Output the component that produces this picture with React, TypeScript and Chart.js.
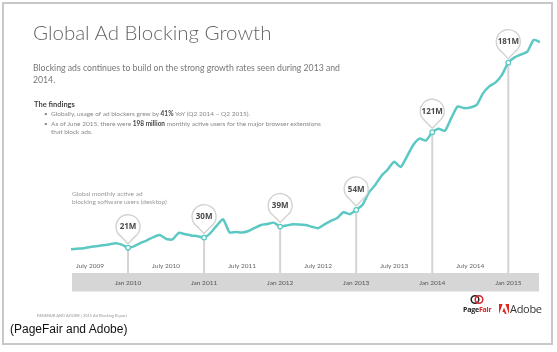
import React, { useEffect, useRef } from "react";
import { Chart, registerables } from "chart.js";

Chart.register(...registerables);

const months: string[] = [
  "2009-04","2009-05","2009-06","2009-07","2009-08","2009-09","2009-10","2009-11","2009-12",
  "2010-01","2010-02","2010-03","2010-04","2010-05","2010-06","2010-07","2010-08","2010-09","2010-10","2010-11","2010-12",
  "2011-01","2011-02","2011-03","2011-04","2011-05","2011-06","2011-07","2011-08","2011-09","2011-10","2011-11","2011-12",
  "2012-01","2012-02","2012-03","2012-04","2012-05","2012-06","2012-07","2012-08","2012-09","2012-10","2012-11","2012-12",
  "2013-01","2013-02","2013-03","2013-04","2013-05","2013-06","2013-07","2013-08","2013-09","2013-10","2013-11","2013-12",
  "2014-01","2014-02","2014-03","2014-04","2014-05","2014-06","2014-07","2014-08","2014-09","2014-10","2014-11","2014-12",
  "2015-01","2015-02","2015-03","2015-04","2015-05","2015-06",
];

const usersMillions: number[] = [
  20.0, 20.5, 21.0, 22.0, 22.7, 23.5, 24.2, 25.2, 24.0,
  21.4, 22.8, 25.5, 27.8, 30.5, 32.4, 29.0, 28.5, 34.2, 33.0, 32.0, 31.2,
  30.1, 34.0, 40.5, 45.9, 34.7, 35.0, 34.4, 35.8, 38.5, 41.0, 41.8, 43.0,
  39.6, 40.5, 41.6, 41.5, 41.0, 39.5, 38.2, 41.5, 44.5, 47.0, 52.0, 50.3,
  54.0, 58.5, 69.0, 75.5, 83.5, 89.0, 95.5, 91.0, 100.0, 110.0, 115.5, 113.8,
  121.0, 123.9, 122.2, 133.2, 143.2, 141.8, 142.3, 144.5, 154.5, 160.5, 164.0, 170.5,
  181.0, 185.5, 188.0, 190.5, 200.5, 198.8,
];

const janTicks: string[] = ["2010-01", "2011-01", "2012-01", "2013-01", "2014-01", "2015-01"];
const janTickLabels: string[] = ["Jan 2010", "Jan 2011", "Jan 2012", "Jan 2013", "Jan 2014", "Jan 2015"];
const julyTicks: string[] = ["2009-07", "2010-07", "2011-07", "2012-07", "2013-07", "2014-07"];
const julyTickLabels: string[] = ["July 2009", "July 2010", "July 2011", "July 2012", "July 2013", "July 2014"];
const calloutMonths: string[] = ["2010-01", "2011-01", "2012-01", "2013-01", "2014-01", "2015-01"];
const calloutLabels: string[] = ["21M", "30M", "39M", "54M", "121M", "181M"];

const TEAL = "#5cc8c3";

const decorPlugin = {
  id: "adDecor",
  beforeDatasetsDraw(chart: any) {
    const { ctx, chartArea, scales } = chart;
    const x = scales.x;
    const y = scales.y;
    ctx.save();
    ctx.fillStyle = "#d6d6d6";
    ctx.fillRect(chartArea.left + 1, chartArea.bottom + 0.5, chartArea.right - chartArea.left - 2, 18.5);
    ctx.strokeStyle = "#d4d4d4";
    ctx.lineWidth = 2;
    calloutMonths.forEach((m) => {
      const i = months.indexOf(m);
      const px = x.getPixelForValue(i);
      const py = y.getPixelForValue(usersMillions[i]);
      ctx.beginPath();
      ctx.moveTo(px, py);
      ctx.lineTo(px, chartArea.bottom + 0.5);
      ctx.stroke();
    });
    ctx.textAlign = "center";
    ctx.textBaseline = "middle";
    ctx.font = "6.5px Lato, 'Open Sans', sans-serif";
    ctx.fillStyle = "#555";
    janTicks.forEach((m, k) => {
      const px = x.getPixelForValue(months.indexOf(m));
      ctx.fillText(janTickLabels[k], px, chartArea.bottom + 10);
    });
    ctx.fillStyle = "#666";
    julyTicks.forEach((m, k) => {
      const px = x.getPixelForValue(months.indexOf(m));
      ctx.fillText(julyTickLabels[k], px, chartArea.bottom - 6.5);
    });
    ctx.restore();
  },
  afterDatasetsDraw(chart: any) {
    const { ctx, scales } = chart;
    const x = scales.x;
    const y = scales.y;
    ctx.save();
    calloutMonths.forEach((m, k) => {
      const i = months.indexOf(m);
      const px = x.getPixelForValue(i);
      const py = y.getPixelForValue(usersMillions[i]);
      ctx.beginPath();
      ctx.arc(px, py, 2.3, 0, Math.PI * 2);
      ctx.fillStyle = "#fff";
      ctx.fill();
      ctx.lineWidth = 1.3;
      ctx.strokeStyle = TEAL;
      ctx.stroke();
      const r = 12;
      const cy = py - 21;
      const tipY = py - 4;
      const th = (38 * Math.PI) / 180;
      const a1 = Math.PI / 2 + th;
      const a2 = Math.PI / 2 - th + Math.PI * 2;
      ctx.beginPath();
      ctx.moveTo(px, tipY);
      ctx.lineTo(px + r * Math.cos(a1), cy + r * Math.sin(a1));
      ctx.arc(px, cy, r, a1, a2, false);
      ctx.closePath();
      ctx.fillStyle = "#fff";
      ctx.fill();
      ctx.lineWidth = 1.4;
      ctx.strokeStyle = "#d2d2d2";
      ctx.stroke();
      ctx.fillStyle = "#4a4a4a";
      ctx.font = "bold 8px 'Open Sans', Lato, sans-serif";
      ctx.textAlign = "center";
      ctx.textBaseline = "middle";
      ctx.fillText(calloutLabels[k], px, cy + 0.5);
    });
    ctx.restore();
  },
};

export default function App() {
  const canvasRef = useRef<HTMLCanvasElement | null>(null);

  useEffect(() => {
    if (!canvasRef.current) return;
    const chart = new Chart(canvasRef.current, {
      type: "line",
      data: {
        labels: months,
        datasets: [
          {
            data: usersMillions,
            borderColor: TEAL,
            borderWidth: 2.5,
            pointRadius: 0,
            tension: 0.2,
            fill: false,
          },
        ],
      },
      options: {
        animation: false,
        responsive: false,
        maintainAspectRatio: false,
        layout: { padding: { left: 71, right: 17, top: 29, bottom: 79.5 } },
        scales: {
          x: { type: "category", display: false, offset: false },
          y: { display: false, min: 0, max: 210 },
        },
        plugins: { legend: { display: false }, tooltip: { enabled: false } },
      },
      plugins: [decorPlugin],
    });
    return () => chart.destroy();
  }, []);

  const font = "Lato, 'Open Sans', sans-serif";

  return (
    <div style={{ position: "absolute", left: 0, top: 0, width: 557, height: 352, background: "#fff", overflow: "hidden", fontFamily: font }}>
      <div style={{ position: "absolute", left: 2, top: 2, width: 551, height: 343, border: "2px solid #c8c8c8", boxSizing: "border-box" }} />
      <canvas ref={canvasRef} width={557} height={352} style={{ position: "absolute", left: 0, top: 0, width: 557, height: 352 }} />
      <div style={{ position: "absolute", left: 33, top: 21.5, fontSize: 20.5, lineHeight: "21px", fontWeight: 300, color: "#666", whiteSpace: "nowrap" }}>
        Global Ad Blocking Growth
      </div>
      <div style={{ position: "absolute", left: 33, top: 61.5, fontSize: 8.7, lineHeight: "12.5px", color: "#777", whiteSpace: "nowrap" }}>
        Blocking ads continues to build on the strong growth rates seen during 2013 and
        <br />
        2014.
      </div>
      <div style={{ position: "absolute", left: 34, top: 100, fontSize: 7.5, lineHeight: "9px", fontWeight: 700, color: "#444", whiteSpace: "nowrap" }}>
        The findings
      </div>
      <div style={{ position: "absolute", left: 44, top: 110, fontSize: 6.5, lineHeight: "8.5px", color: "#888", whiteSpace: "nowrap" }}>
        <div>
          <span style={{ display: "inline-block", width: 7 }}>•</span>Globally, usage of ad blockers grew by <b style={{ color: "#444" }}>41%</b> YoY (Q2 2014 – Q2 2015).
        </div>
        <div style={{ marginTop: 1 }}>
          <span style={{ display: "inline-block", width: 7 }}>•</span>As of June 2015, there were <b style={{ color: "#444" }}>198 million</b> monthly active users for the major browser extensions
        </div>
        <div style={{ paddingLeft: 7 }}>that block ads.</div>
      </div>
      <div style={{ position: "absolute", left: 72, top: 190, fontSize: 6.5, lineHeight: "7.5px", color: "#999", whiteSpace: "nowrap" }}>
        Global monthly active ad
        <br />
        blocking software users (desktop)
      </div>
      <div style={{ position: "absolute", left: 37, top: 313, fontSize: 8, lineHeight: "8px", color: "#999", whiteSpace: "nowrap", transform: "scale(0.5)", transformOrigin: "0 0" }}>
        PAGEFAIR AND ADOBE | 2015 Ad Blocking Report
      </div>
      <div style={{ position: "absolute", left: 10, top: 322, fontSize: 12, lineHeight: "14px", color: "#111", fontFamily: "'Liberation Sans', Arial, sans-serif", whiteSpace: "nowrap" }}>
        (PageFair and Adobe)
      </div>
      <svg style={{ position: "absolute", left: 470, top: 294 }} width={14} height={11} viewBox="0 0 14 11">
        <circle cx={5} cy={5.5} r={3.8} fill="none" stroke="#222" strokeWidth={1.5} />
        <circle cx={9} cy={5.5} r={3.8} fill="none" stroke="#d8232a" strokeWidth={1.5} />
      </svg>
      <div style={{ position: "absolute", left: 463, top: 306, fontSize: 7, lineHeight: "8px", fontWeight: 700, color: "#222", fontFamily: "'Open Sans', sans-serif", whiteSpace: "nowrap", letterSpacing: -0.2 }}>
        Page<span style={{ color: "#d8232a" }}>Fair</span>
      </div>
      <svg style={{ position: "absolute", left: 499, top: 304 }} width={10} height={10} viewBox="0 0 10 10">
        <polygon points="0,0 3.6,0 0,10" fill="#e1251b" />
        <polygon points="6.4,0 10,0 10,10" fill="#e1251b" />
        <polygon points="5,3.5 7.6,10 5.9,10 5.1,8 3.4,8" fill="#e1251b" />
      </svg>
      <div style={{ position: "absolute", left: 510, top: 302, fontSize: 11, lineHeight: "14px", color: "#333", fontFamily: "'Open Sans', sans-serif", whiteSpace: "nowrap", letterSpacing: -0.3 }}>
        Adobe
      </div>
    </div>
  );
}
